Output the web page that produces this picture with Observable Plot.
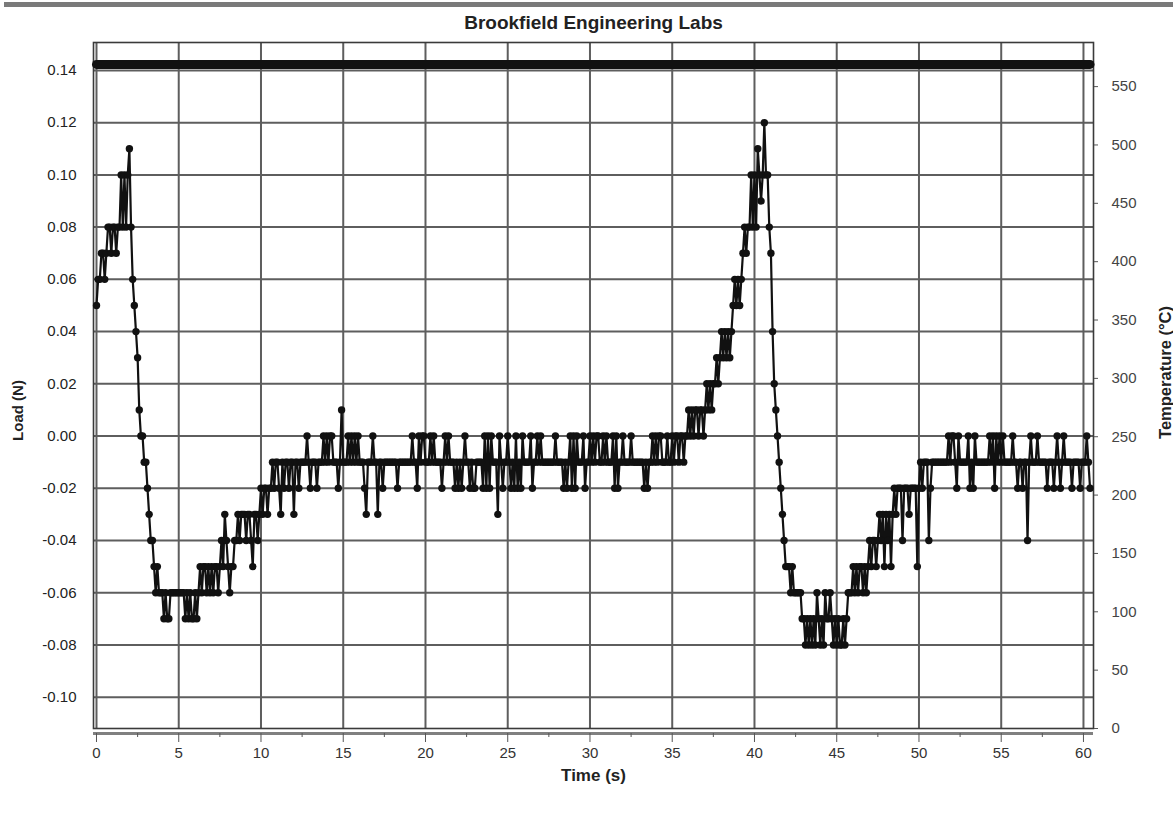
<!DOCTYPE html>
<html>
<head>
<meta charset="utf-8">
<script src="https://cdn.jsdelivr.net/npm/d3@7"></script>
<script src="https://cdn.jsdelivr.net/npm/@observablehq/plot@0.6"></script>
<style>
  body { margin: 0; background: #fff; font-family: "Liberation Sans", Arial, sans-serif; }
  #wrap { position: relative; width: 1173px; height: 817px; overflow: hidden; }
  #chart { position: absolute; left: 0; top: 0; }
  #topbar { position: absolute; left: 4px; right: 0; top: 2px; height: 5px; background: #7a7a7a; }
</style>
</head>
<body>
<div id="wrap">
  <div id="chart"></div>
  <div id="topbar"></div>
</div>
<script>
// ---- Data ----
const chartTitle = "Brookfield Engineering Labs";
const xLabel = "Time (s)";
const yLabel = "Load (N)";
const y2Label = "Temperature (°C)";

const sampleInterval = 0.1; // s between load samples
// Load in hundredths of a newton, one row per second of recording
const loadHundredths = [
  5,6,6,7,7,6,7,8,8,7,
  8,8,7,8,8,10,8,10,8,10,
  11,8,6,5,4,3,1,0,0,-1,
  -1,-2,-3,-4,-4,-5,-6,-5,-6,-6,
  -6,-7,-6,-7,-7,-6,-6,-6,-6,-6,
  -6,-6,-6,-6,-7,-6,-7,-6,-7,-7,
  -6,-7,-6,-5,-6,-5,-5,-6,-5,-6,
  -5,-6,-5,-5,-6,-5,-4,-5,-3,-4,
  -5,-6,-5,-5,-4,-4,-3,-4,-3,-3,
  -3,-4,-3,-3,-4,-5,-3,-3,-4,-3,
  -2,-3,-2,-2,-3,-2,-2,-1,-2,-1,
  -1,-2,-3,-1,-2,-1,-1,-2,-1,-1,
  -3,-1,-1,-2,-1,-1,-1,-1,0,-1,
  -2,-1,-1,-1,-2,-1,-1,-1,0,-1,
  0,-1,0,0,-1,-1,-1,-2,-1,1,
  -1,-1,-1,0,-1,0,-1,0,-1,0,
  -1,-1,-1,-2,-3,-1,-1,-1,0,-1,
  -1,-3,-1,-1,-2,-1,-1,-1,-1,-1,
  -1,-1,-1,-2,-1,-1,-1,-1,-1,-1,
  -1,-1,0,-1,-1,-2,0,-1,0,0,
  -1,-1,-1,0,-1,0,-1,-1,-1,-1,
  -2,-1,0,-1,0,-1,-1,-1,-2,-1,
  -2,-1,-2,-1,0,-1,-1,-2,-1,-2,
  -2,-1,-1,-1,-1,-2,0,-2,0,-2,
  0,-1,-1,-1,-3,0,-1,-2,-1,-1,
  0,-1,-2,-1,-2,0,-2,-1,-2,0,
  -1,-1,-1,-1,0,-2,-1,-1,0,-1,
  0,-1,-1,-1,-1,-1,-1,-1,-1,0,
  -1,-1,-1,-1,-2,-1,-2,-1,0,-2,
  0,-2,0,-1,-1,-1,0,-2,-1,-1,
  0,-1,0,-1,0,0,-1,-1,0,-1,
  0,-1,-1,-1,0,-2,0,-2,-1,-1,
  0,-1,-1,-1,-1,0,-1,-1,-1,-1,
  -1,-1,-1,-2,-1,-2,-1,-1,0,-1,
  0,-1,0,0,-1,-1,-1,0,-1,-1,
  0,-1,0,0,-1,0,0,-1,0,0,
  1,0,1,0,1,1,0,1,1,0,
  1,2,1,2,1,2,2,3,2,3,
  4,3,4,3,4,3,4,5,6,5,
  6,5,6,7,8,7,8,8,10,8,
  10,8,11,10,9,10,12,10,10,8,
  7,4,2,1,0,-1,-2,-3,-4,-5,
  -5,-5,-6,-5,-6,-6,-6,-6,-6,-7,
  -7,-8,-7,-8,-7,-8,-7,-8,-6,-7,
  -8,-7,-8,-6,-7,-7,-6,-7,-8,-7,
  -8,-7,-8,-8,-7,-8,-7,-6,-6,-6,
  -5,-6,-5,-6,-5,-5,-6,-5,-6,-5,
  -4,-5,-4,-4,-5,-4,-3,-4,-3,-5,
  -3,-4,-3,-5,-3,-2,-3,-2,-2,-2,
  -4,-2,-2,-2,-3,-2,-2,-2,-2,-5,
  -2,-1,-2,-1,-1,-1,-4,-2,-1,-1,
  -1,-1,-1,-1,-1,-1,-1,-1,0,-1,
  0,0,-1,-2,0,-1,-1,-1,-1,-1,
  0,-2,-1,-2,0,-1,-1,-1,-1,-1,
  -1,-1,-1,0,-1,0,-2,0,-1,0,
  -1,0,-1,-1,-1,-1,-1,0,-1,-1,
  -2,-1,-1,-2,-1,-1,-4,-1,0,-1,
  -1,-1,0,-1,-1,-1,-1,-1,-2,-1,
  -1,-1,-2,-1,0,-1,-2,-1,0,-1,
  -1,-1,-1,-2,-1,-1,-1,-1,-2,-1,
  -1,-1,0,-1,-2
];

// Temperature trace (°C), roughly constant through the run
const tempTimes = [0, 10, 20, 30, 40, 50, 60.4];
const tempValues = [569, 569, 569, 569, 569, 569, 569];

// Axes
const timeTicks = [0, 5, 10, 15, 20, 25, 30, 35, 40, 45, 50, 55, 60];
const timeMinorTicks = [2.5, 7.5, 12.5, 17.5, 22.5, 27.5, 32.5, 37.5, 42.5, 47.5, 52.5, 57.5];
const loadTicks = [-0.10, -0.08, -0.06, -0.04, -0.02, 0.00, 0.02, 0.04, 0.06, 0.08, 0.10, 0.12, 0.14];
const tempTicks = [0, 50, 100, 150, 200, 250, 300, 350, 400, 450, 500, 550];

const xDomain = [-0.182, 60.61];
const yDomain = [-0.112, 0.1507];
const tempDomain = [0, 587.8];

// ---- Build ----
const loadData = loadHundredths.map((v, i) => ({ time: +(i * sampleInterval).toFixed(1), load: v / 100 }));
const tempData = tempTimes.map((t, i) => ({ time: t, temp: tempValues[i] }));
const toLoad = T => yDomain[0] + (T - tempDomain[0]) * (yDomain[1] - yDomain[0]) / (tempDomain[1] - tempDomain[0]);
const fromLoad = v => tempDomain[0] + (v - yDomain[0]) * (tempDomain[1] - tempDomain[0]) / (yDomain[1] - yDomain[0]);

const gridColor = "#5e5e5e";
const ink = "#111";

const plot = Plot.plot({
  width: 1173,
  height: 817,
  marginTop: 42,
  marginBottom: 89,
  marginLeft: 93,
  marginRight: 80,
  style: { fontFamily: '"Liberation Sans", Arial, sans-serif', background: "#fff", color: "#111" },
  x: { domain: xDomain },
  y: { domain: yDomain },
  marks: [
    Plot.ruleX(timeTicks, { stroke: gridColor, strokeWidth: 2 }),
    Plot.ruleY(loadTicks, { stroke: gridColor, strokeWidth: 2 }),
    Plot.frame({ stroke: "#3a3a3a", strokeWidth: 1.6 }),
    Plot.ruleY([yDomain[0]], { dy: 5, stroke: "#808080", strokeWidth: 3 }),
    Plot.axisX(timeTicks, { tickSize: 9, dy: 5, tickPadding: 5, fontSize: 15, tickFormat: d => String(d), label: null, stroke: "#555", fill: "#333" }),
    Plot.axisX(timeMinorTicks, { tickSize: 4, dy: 5, fill: "none", label: null, stroke: "#555" }),
    Plot.axisY(loadTicks, { anchor: "left", tickSize: 0, tickPadding: 17, fontSize: 15, tickFormat: d => d.toFixed(2), label: null, fill: "#222" }),
    Plot.axisY(tempTicks.map(toLoad), { anchor: "right", tickSize: 4, tickPadding: 14, fontSize: 15, tickFormat: d => String(Math.round(fromLoad(d))), label: null, fill: "#444", stroke: "#555" }),
    Plot.line(tempData, { x: "time", y: d => toLoad(d.temp), stroke: ink, strokeWidth: 9 }),
    Plot.line(loadData, { x: "time", y: "load", stroke: ink, strokeWidth: 2.2 }),
    Plot.dot(loadData, { x: "time", y: "load", r: 3.7, fill: ink, stroke: "none" }),
    Plot.text([chartTitle], { frameAnchor: "top", lineAnchor: "middle", dy: -20, fontWeight: "bold", fontSize: 19, fill: "#222" }),
    Plot.text([xLabel], { frameAnchor: "bottom", lineAnchor: "middle", dy: 47, fontWeight: "bold", fontSize: 17, fill: "#222" }),
    Plot.text([yLabel], { frameAnchor: "left", textAnchor: "middle", lineAnchor: "middle", dx: -75, dy: 25, rotate: -90, fontWeight: "bold", fontSize: 15, fill: "#222" }),
    Plot.text([y2Label], { frameAnchor: "right", textAnchor: "middle", lineAnchor: "middle", dx: 72, dy: -13, rotate: -90, fontWeight: "bold", fontSize: 16.5, fill: "#222" })
  ]
});
document.getElementById("chart").appendChild(plot);
</script>
</body>
</html>
